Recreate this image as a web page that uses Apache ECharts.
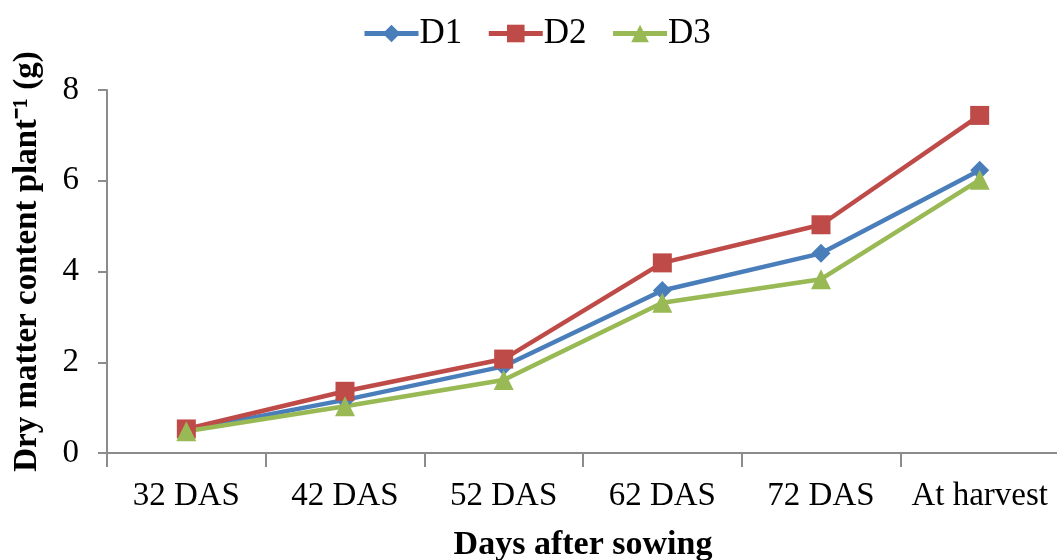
<!DOCTYPE html>
<html><head><meta charset="utf-8">
<script src="https://cdn.jsdelivr.net/npm/echarts@6/dist/echarts.min.js"></script>
<style>html,body{margin:0;padding:0;background:#fff}#c{width:1057px;height:560px}</style>
</head><body><div id="c"></div>
<script>
const categories = ['32 DAS','42 DAS','52 DAS','62 DAS','72 DAS','At harvest'];
const d1 = [0.50, 1.17, 1.91, 3.58, 4.40, 6.23];
const d2 = [0.53, 1.36, 2.07, 4.19, 5.03, 7.44];
const d3 = [0.48, 1.03, 1.61, 3.31, 3.83, 6.02];
const font = 'Liberation Serif, Times New Roman, serif';
const chart = echarts.init(document.getElementById('c'));
function ser(name, data, color, symbol, size){
  return {name, type:'line', data, symbol, symbolSize:size,
    lineStyle:{color, width:4.5}, itemStyle:{color}, emphasis:{disabled:true}};
}
chart.setOption({
  animation:false,
  legend:{top:11, left:357, itemWidth:54, itemHeight:22, itemGap:24,
    lineStyle:{width:5},
    textStyle:{fontFamily:font, fontSize:35, color:'#000', padding:[0,0,0,-4]},
    data:['D1','D2','D3']},
  grid:{left:107, right:-2, top:90, bottom:107, containLabel:false, outerBoundsMode:'none'},
  xAxis:{type:'category', data:categories, boundaryGap:true,
    axisLine:{lineStyle:{color:'#8c8c8c', width:2}},
    axisTick:{show:true, length:14, lineStyle:{color:'#8c8c8c', width:2}},
    axisLabel:{fontFamily:font, fontSize:33, color:'#000', margin:27, interval:0},
    name:'Days after sowing', nameLocation:'middle', nameGap:75,
    nameTextStyle:{fontFamily:font, fontSize:34, fontWeight:'bold', color:'#000'}},
  yAxis:{type:'value', min:0, max:8, interval:2,
    axisLine:{show:true, lineStyle:{color:'#8c8c8c', width:2}},
    axisTick:{show:true, length:9, lineStyle:{color:'#8c8c8c', width:2}},
    splitLine:{show:false},
    axisLabel:{fontFamily:font, fontSize:33, color:'#000', margin:28},
    name:'Dry matter content plant\u207B\u00B9 (g)', nameLocation:'middle', nameGap:63,
    nameTextStyle:{fontFamily:font, fontSize:33, fontWeight:'bold', color:'#000', padding:[0,0,0,20]}},
  series:[
    ser('D1', d1, '#4A7EBB', 'diamond', 19),
    ser('D2', d2, '#BE4B48', 'rect', 19),
    ser('D3', d3, '#98B954', 'triangle', 20)
  ]
});
</script></body></html>
